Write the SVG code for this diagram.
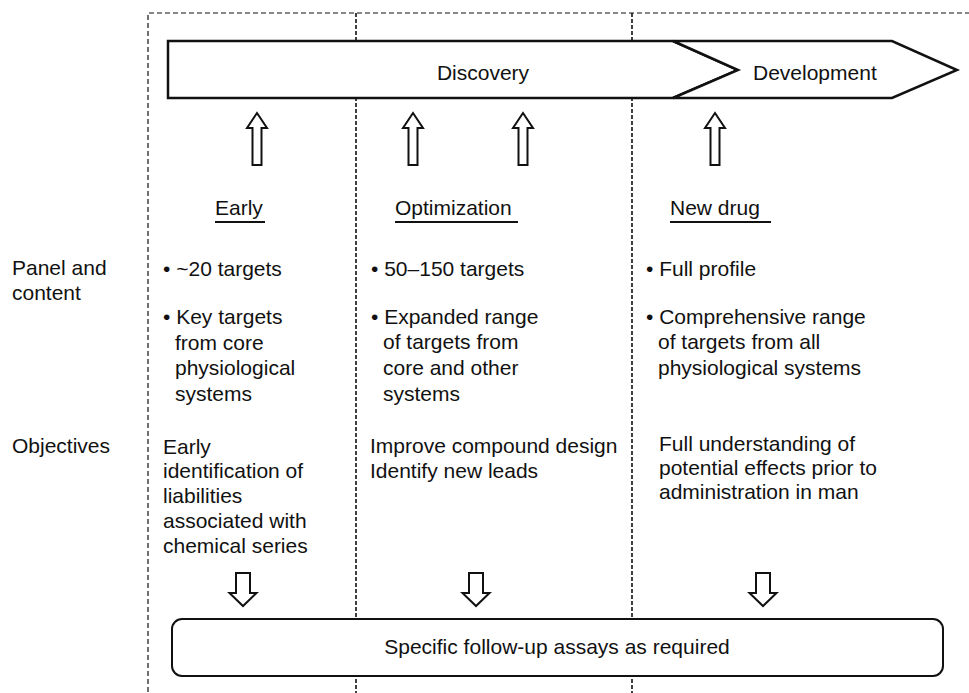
<svg xmlns="http://www.w3.org/2000/svg" xmlns:xlink="http://www.w3.org/1999/xlink" width="969" height="693" viewBox="0 0 969 693">
  <style>
    text { font-family: "Liberation Sans", Arial, sans-serif; font-size: 21px; fill: #111; }
    .mid { text-anchor: middle; }
    .frame { fill: none; stroke: #111; stroke-width: 1.2; stroke-dasharray: 5 3; }
    .divider { fill: none; stroke: #111; stroke-width: 1.6; stroke-dasharray: 4 2; }
    .phase { fill: #fff; stroke: #111; stroke-width: 2.5; stroke-linejoin: miter; }
    .box { fill: #fff; stroke: #111; stroke-width: 2; }
    .arrow { fill: #fff; stroke: #111; stroke-width: 2; stroke-linejoin: miter; }
    .uline { stroke: #111; stroke-width: 2; }
  </style>
  <defs>
    <path id="up" d="M0,0 L10,15 L4.5,15 L4.5,52 L-4.5,52 L-4.5,15 L-10,15 Z"/>
    <path id="down" d="M-7,0 L7,0 L7,20 L13.5,20 L0,33 L-13.5,20 L-7,20 Z"/>
  </defs>

  <rect width="969" height="693" fill="#fff"/>

  <!-- dashed frame and column dividers -->
  <g id="frame">
    <path class="frame" d="M148,700 L148,13 L975,13"/>
    <line class="divider" x1="356" y1="13" x2="356" y2="700"/>
    <line class="divider" x1="632" y1="13" x2="632" y2="700"/>
  </g>

  <!-- phase chevrons -->
  <g id="discovery">
    <polygon class="phase" points="168,41 673,41 738,70 673,98 168,98"/>
    <text class="mid" x="483" y="80">Discovery</text>
  </g>
  <g id="development">
    <polygon class="phase" points="673,41 892,41 957,70 892,98 673,98 738,70"/>
    <text x="753" y="80">Development</text>
  </g>

  <!-- row labels -->
  <g id="row-labels">
    <text x="12" y="275">Panel and</text>
    <text x="12" y="300">content</text>
    <text x="12" y="453">Objectives</text>
  </g>

  <!-- Early panel -->
  <g id="early">
    <text x="215" y="215">Early</text>
    <line class="uline" x1="215" y1="222" x2="265" y2="222"/>
    <text x="163" y="276">• ~20 targets</text>
    <text x="163" y="324">• Key targets</text>
    <text x="175" y="350">from core</text>
    <text x="175" y="375">physiological</text>
    <text x="175" y="401">systems</text>
    <text x="163" y="454">Early</text>
    <text x="163" y="478">identification of</text>
    <text x="163" y="503">liabilities</text>
    <text x="163" y="528">associated with</text>
    <text x="163" y="553">chemical series</text>
  </g>

  <!-- Optimization panel -->
  <g id="optimization">
    <text x="395" y="215">Optimization</text>
    <line class="uline" x1="395" y1="222" x2="518" y2="222"/>
    <text x="371" y="276">• 50–150 targets</text>
    <text x="371" y="324">• Expanded range</text>
    <text x="383" y="349">of targets from</text>
    <text x="383" y="375">core and other</text>
    <text x="383" y="401">systems</text>
    <text x="370" y="453">Improve compound design</text>
    <text x="370" y="478">Identify new leads</text>
  </g>

  <!-- New drug panel -->
  <g id="new-drug">
    <text x="670" y="215">New drug</text>
    <line class="uline" x1="670" y1="222" x2="771" y2="222"/>
    <text x="646" y="276">• Full profile</text>
    <text x="646" y="324">• Comprehensive range</text>
    <text x="658" y="349">of targets from all</text>
    <text x="658" y="375">physiological systems</text>
    <text x="659" y="451">Full understanding of</text>
    <text x="659" y="475">potential effects prior to</text>
    <text x="659" y="499">administration in man</text>
  </g>

  <!-- follow-up box -->
  <g id="follow-up">
    <rect class="box" x="172" y="619" width="771" height="57" rx="10" ry="10"/>
    <text class="mid" x="557" y="654">Specific follow-up assays as required</text>
  </g>

  <!-- block arrows -->
  <g id="connectors">
    <use class="arrow" xlink:href="#up" x="257" y="113"/>
    <use class="arrow" xlink:href="#up" x="413" y="113"/>
    <use class="arrow" xlink:href="#up" x="523" y="113"/>
    <use class="arrow" xlink:href="#up" x="715" y="113"/>
    <use class="arrow" xlink:href="#down" x="243" y="573"/>
    <use class="arrow" xlink:href="#down" x="476" y="573"/>
    <use class="arrow" xlink:href="#down" x="763" y="573"/>
  </g>
</svg>
